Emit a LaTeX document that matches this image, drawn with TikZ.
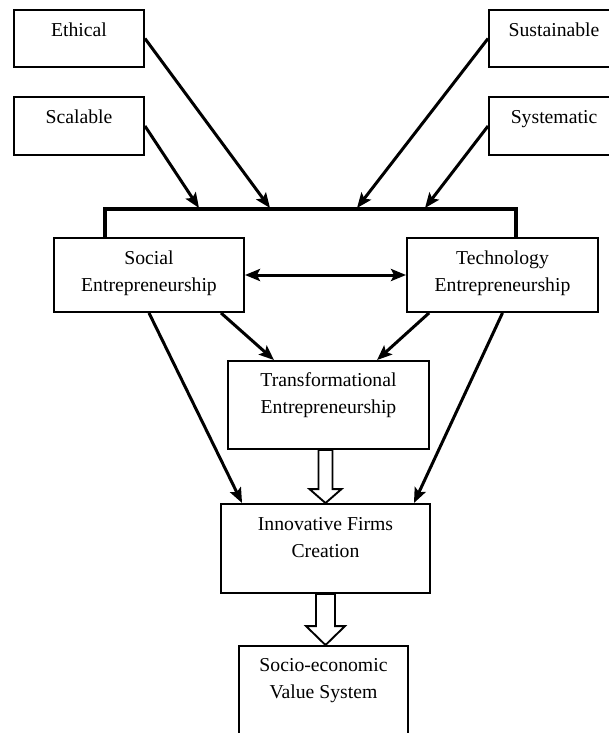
\documentclass[tikz,border=0pt]{standalone}
\usepackage{fontspec}
\setmainfont{Liberation Serif}
\usetikzlibrary{arrows.meta}
\begin{document}
\begin{tikzpicture}[x=1pt,y=-1pt,
  box/.style={draw, line width=1.9pt, rectangle, inner sep=0pt},
  lbl/.style={font=\fontsize{19.7}{27}\selectfont, align=center, anchor=base, inner sep=0pt},
  conn/.style={line width=3pt, -{Stealth[length=15pt,width=12pt,inset=3pt]}},
  dconn/.style={line width=3pt, {Stealth[length=15pt,width=12pt,inset=3pt]}-{Stealth[length=15pt,width=12pt,inset=3pt]}},
  barline/.style={line width=3.2pt, line join=miter},
  hollow/.style={draw, fill=white, line width=1.9pt, line join=miter}]
\clip (0,0) rectangle (609,733);
% boxes
\node[box, minimum width=130pt, minimum height=57pt] (eth) at (79,38.5) {};
\node[box, minimum width=130pt, minimum height=58pt] (sca) at (79,126) {};
\node[box, minimum width=130pt, minimum height=57pt] (sus) at (554,38.5) {};
\node[box, minimum width=130pt, minimum height=58pt] (sys) at (554,126) {};
\node[box, minimum width=190pt, minimum height=74pt] (soc) at (149,275) {};
\node[box, minimum width=191pt, minimum height=74pt] (tec) at (502.5,275) {};
\node[box, minimum width=201pt, minimum height=88pt] (tra) at (328.5,405) {};
\node[box, minimum width=209pt, minimum height=89pt] (inn) at (325.5,548.5) {};
\node[box, minimum width=169pt, minimum height=100pt] (sev) at (323.5,696) {};
% labels (base = baseline of last line)
\node[lbl] (ethT) at ([yshift=-27pt]eth.north) {Ethical};
\node[lbl] (scaT) at ([yshift=-27pt]sca.north) {Scalable};
\node[lbl] (susT) at ([yshift=-27pt]sus.north) {Sustainable};
\node[lbl] (sysT) at ([yshift=-27pt]sys.north) {Systematic};
\node[lbl] (socT) at ([yshift=-54pt]soc.north) {Social\\Entrepreneurship};
\node[lbl] (tecT) at ([yshift=-54pt]tec.north) {Technology\\Entrepreneurship};
\node[lbl] (traT) at ([yshift=-53pt]tra.north) {Transformational\\Entrepreneurship};
\node[lbl] (innT) at ([yshift=-54pt]inn.north) {Innovative Firms\\Creation};
\node[lbl] (sevT) at ([yshift=-53pt]sev.north) {Socio-economic\\Value System};
% bar
\coordinate (barL) at (105,209);
\coordinate (barR) at (516,209);
\coordinate (a1) at (199,208);
\coordinate (a2) at (270,208);
\coordinate (a3) at (357,208);
\coordinate (a4) at (425,208);
\draw[barline] (soc.north -| barL) -- (barL) -- (barR) -- (tec.north -| barR);
% arrows into bar
\draw[conn] (sca.east) -- (a1);
\draw[conn] (eth.east) -- (a2);
\draw[conn] (sus.west) -- (a3);
\draw[conn] (sys.west) -- (a4);
% double arrow
\draw[dconn] (soc.east) -- (tec.west);
% to transformational
\draw[conn] ([xshift=72pt]soc.south) -- ([xshift=-54.5pt]tra.north);
\draw[conn] ([xshift=23pt]tec.south west) -- ([xshift=48.5pt]tra.north);
% to innovative
\draw[conn] (soc.south) -- ([xshift=22pt]inn.north west);
\draw[conn] (tec.south) -- ([xshift=-17pt]inn.north east);
% hollow arrows
\draw[hollow] (inn.north) -- ([xshift=-16pt,yshift=14pt]inn.north) -- ([xshift=-7pt,yshift=14pt]inn.north)
  -- ([xshift=-7pt]inn.north |- tra.south) -- ([xshift=7pt]inn.north |- tra.south)
  -- ([xshift=7pt,yshift=14pt]inn.north) -- ([xshift=16pt,yshift=14pt]inn.north) -- cycle;
\draw[hollow] (inn.south |- sev.north) -- ([xshift=-19.5pt,yshift=19pt]inn.south |- sev.north)
  -- ([xshift=-9.5pt,yshift=19pt]inn.south |- sev.north) -- ([xshift=-9.5pt]inn.south)
  -- ([xshift=9.5pt]inn.south) -- ([xshift=9.5pt,yshift=19pt]inn.south |- sev.north)
  -- ([xshift=19.5pt,yshift=19pt]inn.south |- sev.north) -- cycle;
\end{tikzpicture}
\end{document}
